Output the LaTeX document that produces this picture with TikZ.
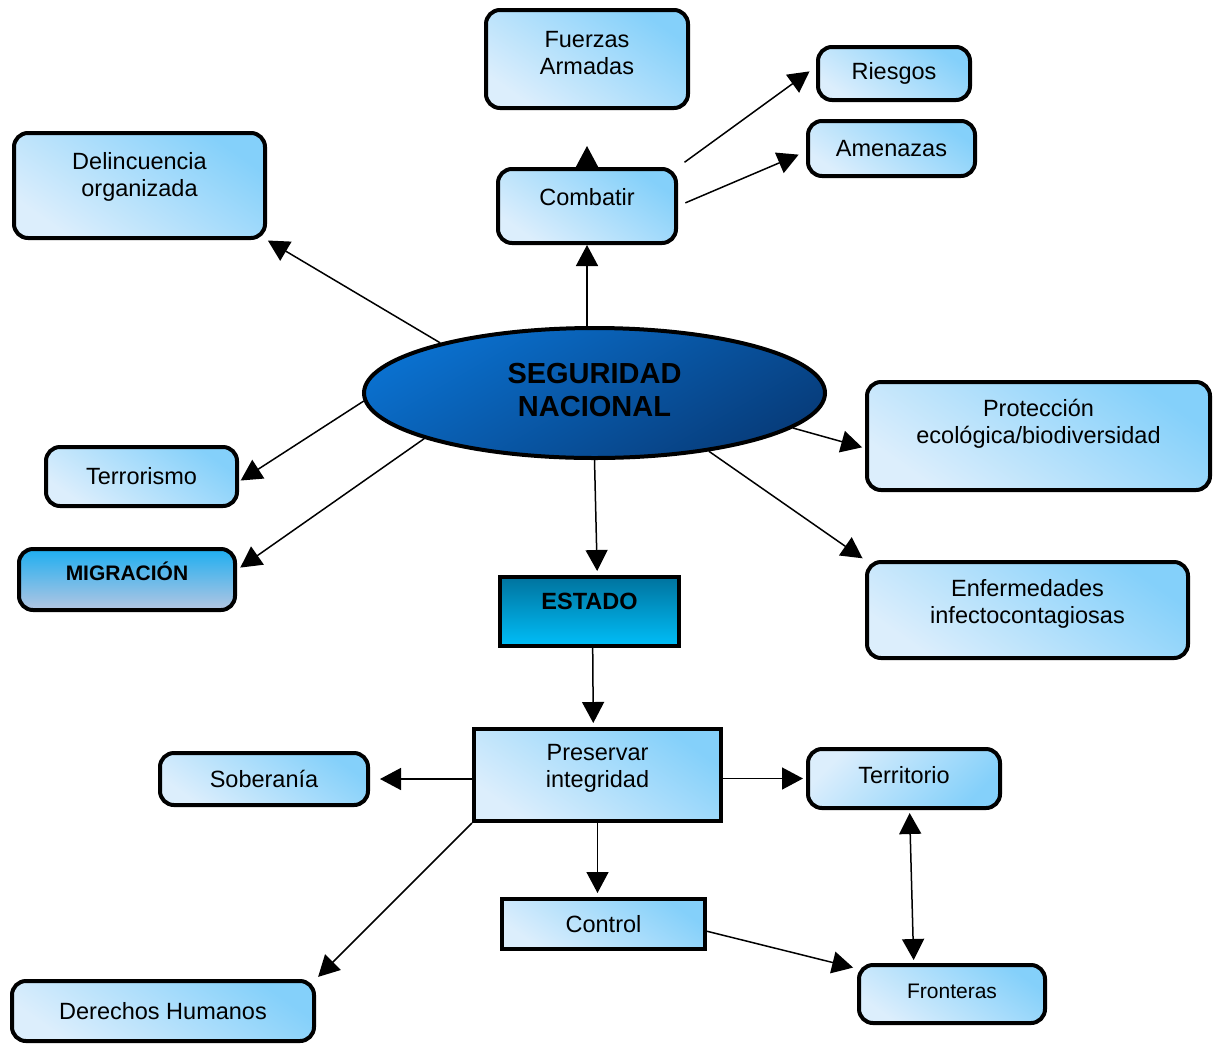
\documentclass[tikz,border=0pt]{standalone}
\usepackage{fontspec}
\setmainfont{Liberation Sans}
\usepackage{tikz}
\usetikzlibrary{shapes.geometric,arrows.meta}
\definecolor{celeste}{HTML}{84D0FA}
\definecolor{palido}{HTML}{DCEEFC}
\definecolor{snclaro}{HTML}{0A70CE}
\definecolor{snoscuro}{HTML}{073D7C}
\definecolor{estarriba}{HTML}{00739E}
\definecolor{estabajo}{HTML}{00BEF8}
\definecolor{migarriba}{HTML}{1EAEF0}
\definecolor{migabajo}{HTML}{B4C6E2}

\begin{document}
\begin{tikzpicture}[x=1pt, y=-1pt,
    caja/.style={draw, line width=4pt, rounded corners=14pt, inner sep=0pt, align=center,
        top color=celeste, bottom color=palido, shading angle=-35,
        font=\fontsize{23.5}{27}\selectfont},
    recto/.style={caja, sharp corners},
    tam/.style 2 args={minimum width=#1pt, minimum height=#2pt},
    lift/.style={text depth=#1pt},
    flecha/.style={line width=1.5pt, -{Triangle[length=21pt,width=22pt]}},
    flechados/.style={line width=1.5pt, {Triangle[length=21pt,width=22pt]}-{Triangle[length=21pt,width=22pt]}}]
    \useasboundingbox (0,0) rectangle (1214,1045);

    % Centre
    \node[draw, ellipse, line width=4pt, inner sep=0pt, tam={461}{130}, align=center,
        top color=snclaro, bottom color=snoscuro, shading angle=30,
        font=\fontsize{29}{33}\selectfont\bfseries, lift=7] (sn) at (594.5,393) {SEGURIDAD\\NACIONAL};

    % Upper branch
    \node[caja, tam={202}{98}, lift=12] (fa) at (587,59) {Fuerzas\\Armadas};
    \node[caja, tam={178}{74}, lift=18] (comb) at (587,206) {Combatir};
    \node[caja, tam={152}{53}] (ries) at (894,73.5) {Riesgos};
    \node[caja, tam={167}{55}] (amen) at (891.5,148.5) {Amenazas};

    % Left side
    \node[caja, tam={251}{105}, lift=23] (del) at (139.5,185.5) {Delincuencia\\organizada};
    \node[caja, tam={191}{59}] (terr) at (141.5,476.5) {Terrorismo};
    \node[caja, tam={216}{61}, lift=17, top color=migarriba, bottom color=migabajo,
        font=\fontsize{21}{25}\selectfont\bfseries] (mig) at (127,579.5) {MIGRACIÓN};

    % Right side
    \node[caja, tam={343}{108}, lift=29] (prot) at (1038.5,436) {Protección\\ecológica/biodiversidad};
    \node[caja, tam={321}{96}, lift=18] (enf) at (1027.5,610) {Enfermedades\\infectocontagiosas};

    % Lower branch
    \node[recto, tam={179}{69}, lift=20, top color=estarriba, bottom color=estabajo,
        font=\fontsize{23.5}{27}\selectfont\bfseries] (est) at (589.5,611.5) {ESTADO};
    \node[recto, tam={247}{92}, lift=18] (pres) at (597.5,775) {Preservar\\integridad};
    \node[caja, tam={208}{52}] (sob) at (264,779) {Soberanía};
    \node[caja, tam={192}{59}, lift=7, shading angle=-135] (terri) at (904,778.5) {Territorio};
    \node[recto, tam={203}{50}] (ctrl) at (603.5,924) {Control};
    \node[caja, tam={186}{58}, lift=6, font=\fontsize{21}{25}\selectfont] (fron) at (952,994) {Fronteras};
    \node[caja, tam={302}{60}] (der) at (163,1011) {Derechos Humanos};

    % Connectors
    \draw[flecha] (sn.north -| comb) -- (comb.south);
    \draw[flecha, shorten >=36pt] (comb.north) -- (fa.south);
    \draw[flecha, shorten <=8pt, shorten >=8pt] (comb.north east) -- (ries.175);
    \draw[flecha, shorten <=8pt, shorten >=8pt] (comb.east) -- (amen.182);
    \draw[flecha, shorten >=1pt] (sn.162) -- (del.south east);
    \draw[flecha, shorten >=2pt] (sn.182) -- (terr.-3);
    \draw[flecha, shorten >=4pt] (sn.195) -- (mig.5);
    \draw[flecha, shorten >=4pt] (sn.south) -- (est.78);
    \draw[flecha, shorten >=3pt] (sn.350) -- (prot.184);
    \draw[flecha, shorten >=3pt] (sn.333) -- (enf.north west);
    \draw[flecha, shorten >=4pt] (est.-85) -- (pres.95);
    \draw[flecha, shorten >=10pt] (pres.west |- sob.east) -- (sob.east);
    \draw[flecha, shorten >=3pt] (pres.east |- terri.west) -- (terri.west);
    \draw[flecha, shorten >=4pt] (pres.south) -- (pres.south |- ctrl.north);
    \draw[flecha, shorten >=3pt] (pres.south west) -- (der.north east);
    \draw[flecha, shorten >=4pt] (ctrl.-4) -- (fron.165);
    \draw[flechados, shorten <=3pt, shorten >=3pt] (terri.-80) -- (fron.141);
\end{tikzpicture}
\end{document}
